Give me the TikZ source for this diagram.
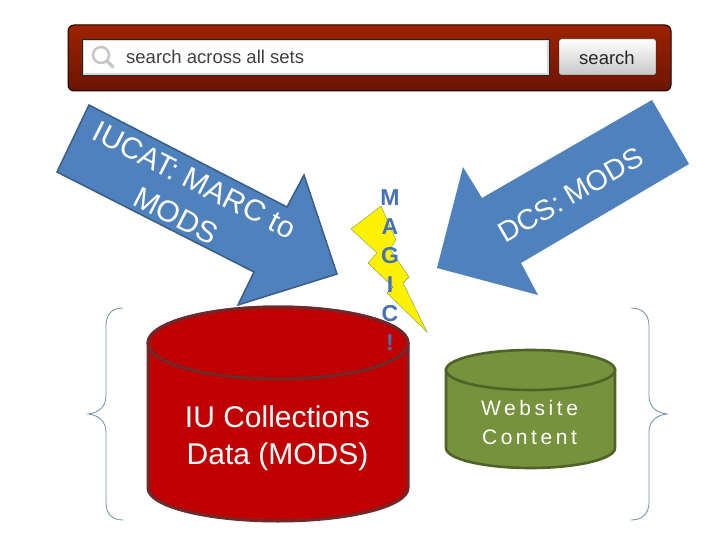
\documentclass[tikz,border=0pt]{standalone}
\usepackage{fontspec}
\setmainfont{Liberation Sans}
\newfontfamily\spacedfont[LetterSpace=17]{Liberation Sans}
\usetikzlibrary{positioning}
\definecolor{barTop}{HTML}{9C2200}
\definecolor{barBottom}{HTML}{6B1505}
\definecolor{arrowBlue}{HTML}{4F81BD}
\definecolor{arrowEdge}{HTML}{385D8A}
\definecolor{dbRed}{HTML}{C00000}
\definecolor{dbRedEdge}{HTML}{6E2A2A}
\definecolor{dbGreen}{HTML}{76923C}
\definecolor{dbGreenEdge}{HTML}{4F6228}
\definecolor{braceBlue}{HTML}{6C90AA}
\definecolor{magicBlue}{HTML}{4672B4}
\begin{document}
\begin{tikzpicture}[x=1pt,y=-1pt]
    \tikzstyle{searchtext} = [font=\fontsize{18.5}{23}\selectfont, text=black!75, inner sep=0pt]
    \tikzstyle{arrowtext} = [font=\fontsize{28.5}{40}\selectfont, text=white, align=center, inner sep=0pt]
    \tikzstyle{bigarrow} = [fill=arrowBlue, line join=miter]
    \tikzstyle{bracket} = [draw=braceBlue, line width=0.8pt]
    \useasboundingbox (0,0) rectangle (720,540);
    \fill[white] (0,0) rectangle (720,540);
    \draw[draw=black!80!barBottom, line width=1pt, rounded corners=6pt, top color=barTop, bottom color=barBottom] (68,25) rectangle (671,91);
    \draw[draw=black!85, fill=black!15] (82,39) rectangle (549,75);
    \fill[white] (84,41.5) rectangle (547,73);
    \draw[draw=black!85, rounded corners=2pt, top color=white, bottom color=black!22] (559,39) rectangle (656,75);
    \draw[draw=black!22, line width=2.5pt] (101,55) circle (8);
    \draw[draw=black!22, line width=3.5pt, line cap=round] (107,61) -- (113,67);
    \node[searchtext, anchor=west] (searchfield) at (126,57) {search across all sets};
    \node[searchtext, text=black!85] (searchbutton) at (607,58) {search};
    \draw[bigarrow, draw=arrowEdge, line width=1.5pt] (89,105) -- (287,207) -- (304,175) -- (337,274) -- (238,305) -- (254,272) -- (57,172) -- cycle;
    \node[arrowtext, font=\fontsize{30}{40}\selectfont, rotate=-27] (iucat) at (185.5,198) {IUCAT: MARC to\\MODS};
    \fill[bigarrow] (652,100) -- (689,164) -- (521,263) -- (538,295) -- (437,268) -- (463,167) -- (482,198) -- cycle;
    \node[arrowtext, rotate=30] (dcs) at (571,195) {DCS: MODS};
    \draw[draw=dbRedEdge, line width=3pt, fill=dbRed] (148,343) arc[start angle=180, end angle=360, x radius=130, y radius=36] -- (408,488) arc[start angle=0, end angle=180, x radius=130, y radius=33] -- cycle;
    \draw[draw=dbRedEdge, line width=3pt, fill=dbRed] (278,343) ellipse[x radius=130, y radius=36];
    \node[font=\fontsize{30}{37}\selectfont, text=white, align=center, inner sep=0pt] (iudata) at (277.5,438.5) {IU Collections\\Data (MODS)};
    \draw[draw=dbGreenEdge, line width=2.6pt, fill=dbGreen] (446,370) -- (446,448) arc[start angle=180, end angle=0, x radius=84.5, y radius=20] -- (615,370) -- cycle;
    \draw[draw=dbGreenEdge, line width=2.6pt, fill=dbGreen] (530.5,370) ellipse[x radius=84.5, y radius=20];
    \node[font=\fontsize{21}{29}\spacedfont, text=white, align=center, inner sep=0pt] (website) at (529.5,422) {Website\\Content};
    \draw[draw=black!50!yellow!70!green, fill=yellow] (381,206) -- (396,240) -- (390,249) -- (409,277) -- (403,283) -- (427,332) -- (387,293) -- (393,287) -- (368,263) -- (377,253) -- (351,229) -- cycle;
    \node[font=\fontsize{23}{29}\selectfont\bfseries, text=magicBlue, align=center, inner sep=0pt] (magic) at (390,270) {M\\A\\G\\I\\C\\!};
    \draw[bracket] (123,308) .. controls (112,308) and (106,314) .. (106,326) -- (106,396) .. controls (106,407) and (98,413) .. (88,414) .. controls (98,415) and (106,421) .. (106,432) -- (106,502) .. controls (106,514) and (112,520) .. (123,520);
    \draw[bracket] (631,308) .. controls (642,308) and (649,314) .. (649,326) -- (649,396) .. controls (649,407) and (657,413) .. (667,414) .. controls (657,415) and (649,421) .. (649,432) -- (649,502) .. controls (649,514) and (642,520) .. (631,520);
\end{tikzpicture}
\end{document}
